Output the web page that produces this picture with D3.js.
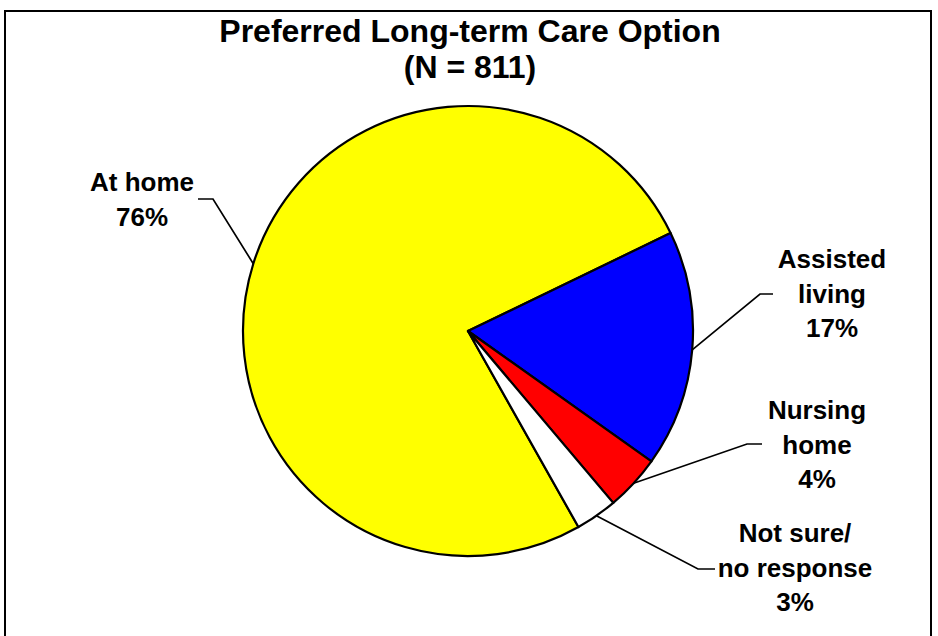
<!DOCTYPE html>
<html>
<head>
<meta charset="utf-8">
<style>
  html, body { margin: 0; padding: 0; background: #fff; }
  svg { display: block; font-family: Arial, "Liberation Sans", sans-serif; }
</style>
</head>
<body>
<svg width="938" height="636"></svg>
<script src="https://d3js.org/d3.v7.min.js"></script>
<script>
// data
var categories = ['At home', 'Assisted living', 'Nursing home', 'Not sure/ no response'];
var values = [76, 17, 4, 3];
var labelLines = [['At home'], ['Assisted', 'living'], ['Nursing', 'home'], ['Not sure/', 'no response']];
var colors = ['#ffff00', '#0000ff', '#ff0000', '#ffffff'];
var titleLines = ['Preferred Long-term Care Option', '(N = 811)'];

// layout (label anchor = first baseline, leader end + elbow)
var labelPos = [
  { x: 142, y: 191, lx: 198, ly: 199, ex: 213 },
  { x: 832, y: 268, lx: 773, ly: 294, ex: 760 },
  { x: 817, y: 419, lx: 762, ly: 444, ex: 747 },
  { x: 795, y: 542, lx: 715, ly: 569, ex: 698 }
];

var svg = d3.select('svg');
var cx = 468, cy = 331, r = 225;
var lineH = 34.5;

// frame
svg.append('rect')
  .attr('x', 5).attr('y', 11)
  .attr('width', 926).attr('height', 640)
  .attr('fill', 'none')
  .attr('stroke', '#000')
  .attr('stroke-width', 2);

// title
svg.append('text')
  .attr('x', 470).attr('y', 42)
  .attr('text-anchor', 'middle')
  .attr('font-size', 32)
  .attr('font-weight', 'bold')
  .selectAll('tspan')
  .data(titleLines)
  .enter().append('tspan')
  .attr('x', 470)
  .attr('dy', function (d, i) { return i === 0 ? 0 : 36; })
  .text(function (d) { return d; });

// pie, yellow slice starts at ~150.6deg clockwise from 12 o'clock
var startDeg = 150.6;
var pie = d3.pie()
  .sort(null)
  .startAngle(startDeg * Math.PI / 180)
  .endAngle((startDeg + 360) * Math.PI / 180);
var arcs = pie(values);

var arc = d3.arc().innerRadius(0).outerRadius(r);
var edgeArc = d3.arc().innerRadius(r).outerRadius(r);

var g = svg.append('g').attr('transform', 'translate(' + cx + ',' + cy + ')');

g.selectAll('path.slice')
  .data(arcs)
  .enter().append('path')
  .attr('class', 'slice')
  .attr('d', arc)
  .attr('fill', function (d, i) { return colors[i]; })
  .attr('stroke', '#000')
  .attr('stroke-width', 2.2)
  .attr('stroke-linejoin', 'round');

// leader lines
svg.selectAll('path.leader')
  .data(arcs)
  .enter().append('path')
  .attr('class', 'leader')
  .attr('fill', 'none')
  .attr('stroke', '#000')
  .attr('stroke-width', 1.7)
  .attr('d', function (d, i) {
    var p = edgeArc.centroid(d);
    var L = labelPos[i];
    return 'M' + (cx + p[0]) + ',' + (cy + p[1]) + 'L' + L.ex + ',' + L.ly + 'L' + L.lx + ',' + L.ly;
  });

// labels
svg.selectAll('text.lbl')
  .data(arcs)
  .enter().append('text')
  .attr('class', 'lbl')
  .attr('text-anchor', 'middle')
  .attr('font-size', 26)
  .attr('font-weight', 'bold')
  .each(function (d, i) {
    var t = d3.select(this);
    var lines = labelLines[i].concat([values[i] + '%']);
    var L = labelPos[i];
    lines.forEach(function (s, j) {
      t.append('tspan')
        .attr('x', L.x)
        .attr('y', L.y + j * lineH)
        .text(s);
    });
  });
</script>
</body>
</html>
